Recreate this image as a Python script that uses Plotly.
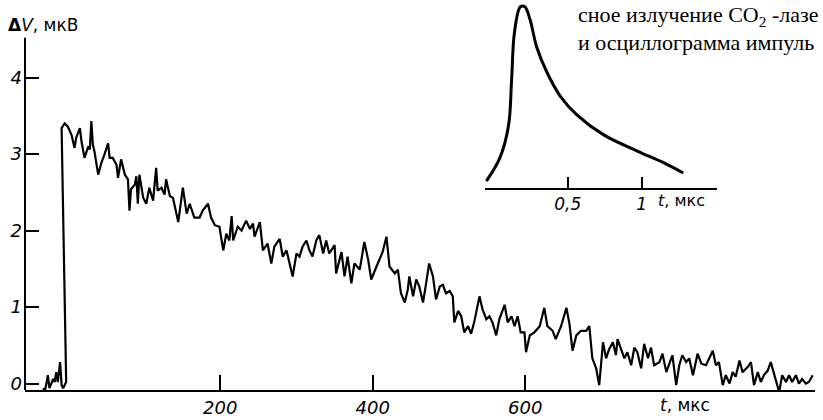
import plotly.graph_objects as go

# Main oscillogram: time (мкс) and signal ΔV (мкВ)
t_main = [-32, -30, -26, -24, -19, -17, -15, -13, -10, -8, -6, -2,
          -8, -4, 0, 5, 9, 11, 16, 18, 22, 27, 29, 31, 33, 35, 40, 44, 48, 53, 55, 59, 64, 66, 70,
          75, 79, 81, 83, 88, 90, 92, 94, 99, 103, 107, 112, 116, 118, 123, 127, 129, 134, 138,
          145, 149, 151, 156, 160, 166, 173, 177, 184, 188, 193,
          199, 204, 208, 212, 215, 217, 223, 228, 234, 239, 243, 245, 252, 256, 262, 267, 271,
          278, 282, 287, 291, 295, 300, 304, 308, 313, 317, 321, 326, 330, 335, 339, 343, 350,
          352, 359, 363, 367, 372, 376, 383, 389, 394, 398, 405, 409, 413, 418, 422, 429, 433,
          437, 442, 446,
          448, 453, 457, 461, 466, 470, 474, 479, 483, 488, 492, 496, 501, 505, 507, 512, 516,
          520, 525, 529, 533, 540, 544, 549, 553, 557, 562, 566, 573, 577, 582, 586, 590, 594,
          599, 601, 606, 612, 619, 625, 629, 636, 640, 647, 654, 658, 662, 667, 673, 680, 684,
          688, 693, 697,
          702, 706, 710, 715, 719, 721, 726, 730, 734, 739, 743, 747, 752, 756, 761, 765, 769,
          776, 780, 785, 789, 793, 798, 802, 806, 811, 815, 820, 826, 831, 837, 841, 846, 850,
          854, 859, 863, 868, 872, 876, 881, 885, 892, 896, 900, 905, 909, 913, 918, 922, 927,
          931, 933, 937, 942, 946, 950, 955, 959, 963, 968, 972, 977]
dv_main = [-0.06, -0.11, 0.11, -0.06, 0.06, 0.02, 0.15, 0.02, 0.28, -0.02, -0.06, 0.02,
           3.34, 3.40, 3.36, 3.25, 3.08, 3.21, 3.34, 3.17, 2.95, 3.10, 3.06, 3.43, 3.12, 3.04, 2.73, 2.88, 2.99, 3.14, 2.95, 2.95, 2.86, 2.69, 2.93,
           2.73, 2.67, 2.26, 2.54, 2.60, 2.71, 2.35, 2.73, 2.43, 2.35, 2.56, 2.39, 2.82, 2.52, 2.56, 2.47, 2.67, 2.45, 2.43,
           2.11, 2.39, 2.56, 2.22, 2.35, 2.17, 2.17, 2.26, 2.35, 2.17, 2.07,
           2.05, 1.74, 1.96, 1.87, 2.19, 1.87, 2.05, 2.00, 2.13, 2.02, 2.09, 1.92, 2.11, 1.74, 1.83, 1.57, 1.79,
           1.89, 1.66, 1.74, 1.57, 1.40, 1.70, 1.66, 1.79, 1.87, 1.74, 1.66, 1.87, 1.94, 1.70, 1.87, 1.70, 1.81,
           1.44, 1.72, 1.40, 1.66, 1.31, 1.57, 1.49, 1.85, 1.62, 1.36, 1.53, 1.62, 1.72, 1.92, 1.53, 1.44, 1.49,
           1.18, 1.06, 1.23,
           1.40, 1.14, 1.36, 1.27, 1.06, 1.31, 1.57, 1.40, 1.10, 1.27, 1.29, 1.18, 1.21, 1.14, 0.80, 0.95, 0.88,
           0.67, 0.75, 0.65, 0.80, 1.14, 0.97, 0.84, 0.88, 0.80, 0.63, 0.84, 1.03, 0.80, 0.88, 0.75, 0.88, 0.67,
           0.67, 0.41, 0.63, 0.67, 0.75, 0.99, 0.75, 0.69, 0.58, 0.75, 0.99, 0.78, 0.43, 0.63, 0.69, 0.69, 0.75,
           0.33, 0.20, -0.02,
           0.54, 0.33, 0.45, 0.54, 0.37, 0.58, 0.45, 0.33, 0.41, 0.24, 0.47, 0.41, 0.20, 0.52, 0.33, 0.47, 0.24,
           0.28, 0.39, 0.15, 0.26, 0.37, -0.02, 0.24, 0.37, 0.28, 0.33, 0.11, 0.39, 0.26, 0.24, 0.33, 0.43, 0.24,
           0.28, -0.02, 0.11, 0.00, 0.15, 0.09, 0.30, 0.15, 0.22, 0.28, -0.02, 0.15, 0.02, 0.11, 0.17, 0.28, 0.11,
           -0.02, -0.11, 0.11, 0.02, 0.11, 0.02, 0.11, 0.00, 0.06, 0.00, 0.02, 0.11]

# Inset: laser pulse shape (time in мкс, relative intensity)
t_inset = [-0.05, 0.04, 0.10, 0.12, 0.14, 0.18, 0.21, 0.245, 0.29, 0.36, 0.45, 0.56, 0.74, 0.97, 1.15, 1.28]
i_inset = [0.036, 0.16, 0.34, 0.58, 0.85, 0.99, 0.99, 0.92, 0.77, 0.63, 0.50, 0.40, 0.29, 0.20, 0.135, 0.08]

main_ticks = [200, 400, 600]
main_yticks = [0, 1, 2, 3, 4]
inset_ticks = [0.5, 1]
inset_ticktext = ["0,5", "1"]

tick_font = dict(family="DejaVu Sans", size=18, color="black", style="italic")

fig = go.Figure()
fig.add_trace(go.Scatter(x=t_main, y=dv_main, mode="lines",
                         line=dict(color="black", width=2.2), xaxis="x", yaxis="y",
                         showlegend=False, hoverinfo="skip"))
fig.add_trace(go.Scatter(x=t_inset, y=i_inset, mode="lines",
                         line=dict(color="black", width=3, shape="spline", smoothing=1.0),
                         xaxis="x2", yaxis="y2", showlegend=False, hoverinfo="skip"))

fig.update_layout(
    width=823, height=420,
    margin=dict(l=25, r=8, t=2, b=25),
    paper_bgcolor="white", plot_bgcolor="white",
    xaxis=dict(range=[-56, 980], domain=[0, 1], showline=True, linecolor="black", linewidth=2,
               ticks="inside", ticklen=15, tickwidth=1.5, tickcolor="black",
               tickvals=main_ticks, ticktext=[str(v) for v in main_ticks],
               tickfont=tick_font, showgrid=False, zeroline=False, anchor="y"),
    yaxis=dict(range=[-0.084, 4.987], domain=[0, 1], showline=False,
               ticks="inside", ticklen=14, tickwidth=1.5, tickcolor="black",
               tickvals=main_yticks, ticktext=[str(v) for v in main_yticks],
               ticklabelstandoff=2,
               tickfont=tick_font, showgrid=False, zeroline=False, anchor="x"),
    xaxis2=dict(range=[-0.059, 1.508], domain=[0.5823, 0.8759], showline=True,
                linecolor="black", linewidth=2, ticks="inside", ticklen=11, tickwidth=1.5,
                tickcolor="black", tickvals=inset_ticks, ticktext=inset_ticktext,
                tickfont=dict(family="DejaVu Sans", size=17, color="black", style="italic"),
                showgrid=False, zeroline=False, anchor="y2"),
    yaxis2=dict(range=[0, 1.016], domain=[0.5216, 1], visible=False, anchor="x2"),
    shapes=[dict(type="line", xref="paper", yref="y", x0=0, x1=0, y0=-0.084, y1=4.52,
                 line=dict(color="black", width=2))],
    annotations=[
        dict(text="<b>Δ</b><i>V</i>, мкВ", xref="paper", yref="paper", x=-0.024, y=0.9415,
             xanchor="left", yanchor="middle", showarrow=False,
             font=dict(family="DejaVu Sans", size=17, color="black")),
        dict(text="<i>t</i>, мкс", xref="x", yref="paper", x=810, y=-0.038,
             xanchor="center", yanchor="middle", showarrow=False,
             font=dict(family="DejaVu Sans", size=17, color="black")),
        dict(text="<i>t</i>, мкс", xref="x2", yref="paper", x=1.266, y=0.4885,
             xanchor="center", yanchor="middle", showarrow=False,
             font=dict(family="DejaVu Sans", size=16, color="black")),
        dict(text="сное излучение CO<sub>2</sub> -лазе", xref="paper", yref="paper",
             x=0.6975, y=0.9644, xanchor="left", yanchor="middle", showarrow=False,
             font=dict(family="Liberation Serif", size=22, color="black")),
        dict(text="и осциллограмма импуль", xref="paper", yref="paper",
             x=0.6975, y=0.8944, xanchor="left", yanchor="middle", showarrow=False,
             font=dict(family="Liberation Serif", size=22, color="black")),
    ],
)

fig.write_html("out.html", post_script="document.body.style.margin='0';",
               config={"displayModeBar": False})
